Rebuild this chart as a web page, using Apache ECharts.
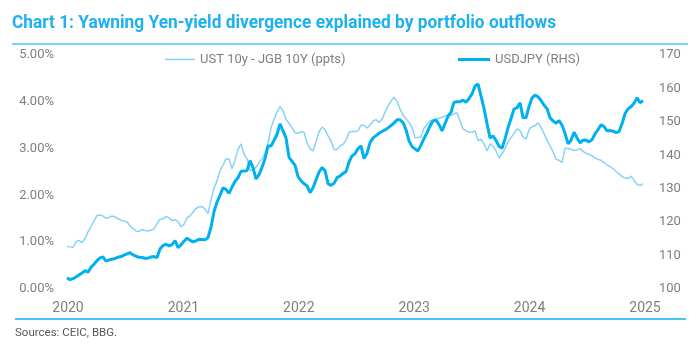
<!DOCTYPE html>
<html><head><meta charset="utf-8">
<script src="https://cdn.jsdelivr.net/npm/echarts@6/dist/echarts.min.js"></script>
<style>html,body{margin:0;padding:0;background:#fff}#c{width:700px;height:345px}</style>
</head><body><div id="c"></div>
<script>
// ---- data ----
const titleText = "Chart 1: Yawning Yen-yield divergence explained by portfolio outflows";
const sourceText = "Sources: CEIC, BBG.";
const seriesNames = ["UST 10y - JGB 10Y (ppts)", "USDJPY (RHS)"];
const yearTicks = [2020, 2021, 2022, 2023, 2024, 2025];
const leftTicks = ["0.00%", "1.00%", "2.00%", "3.00%", "4.00%", "5.00%"];
const rightTicks = [100, 110, 120, 130, 140, 150, 160, 170];
// observation dates: first observation (decimal year) and spacing (years)
const firstObs = 2019.9913;
const obsStep = 0.026;
// UST 10y - JGB 10Y spread (ppts)
const spread = [0.91,0.90,0.89,1.01,1.04,0.99,1.08,1.22,1.33,1.46,1.57,1.58,1.56,1.51,1.53,1.56,1.54,1.50,1.47,1.45,
1.43,1.35,1.29,1.24,1.23,1.27,1.25,1.24,1.26,1.28,1.40,1.49,1.50,1.55,1.52,1.46,1.48,1.44,1.33,1.38,
1.52,1.56,1.64,1.72,1.76,1.76,1.71,1.61,1.90,2.15,2.31,2.53,2.65,2.78,2.78,2.57,2.75,2.98,3.10,2.88,
2.78,2.53,2.55,2.60,2.70,2.78,2.90,3.10,3.45,3.62,3.78,3.90,3.81,3.62,3.54,3.45,3.34,3.33,3.36,3.35,
3.12,3.00,2.95,3.15,3.36,3.46,3.40,3.27,3.16,2.98,2.98,3.06,3.09,3.18,3.35,3.37,3.36,3.38,3.50,3.50,
3.44,3.50,3.59,3.62,3.56,3.63,3.78,3.91,4.02,4.10,4.01,3.85,3.71,3.64,3.56,3.45,3.23,3.24,3.25,3.44,
3.51,3.59,3.62,3.63,3.65,3.67,3.70,3.71,3.71,3.75,3.76,3.59,3.42,3.38,3.35,3.35,3.38,3.17,3.20,3.10,
2.95,3.10,3.05,2.95,2.80,2.89,3.00,3.15,3.24,3.32,3.42,3.38,3.25,3.20,3.41,3.47,3.49,3.55,3.45,3.32,
3.17,3.06,2.93,2.77,2.75,2.70,3.01,3.00,2.99,2.96,2.97,3.00,2.94,2.90,2.87,2.85,2.80,2.77,2.75,2.70,
2.65,2.62,2.57,2.51,2.46,2.40,2.37,2.36,2.41,2.32,2.24,2.21,2.25];
// USDJPY
const usdjpy = [103.4,102.8,103.1,103.6,104.2,104.8,105.5,105.0,106.5,107.4,108.5,109.3,109.6,108.3,108.7,108.9,109.1,109.5,109.7,110.1,
110.5,110.9,110.2,109.8,109.5,109.4,109.2,109.2,109.6,109.7,109.4,112.0,113.0,113.4,112.9,113.3,114.5,112.4,113.2,114.3,
115.2,114.6,114.1,114.4,114.9,114.8,114.7,115.4,118.5,123.2,126.0,128.0,130.3,129.8,128.6,130.5,132.2,133.3,135.2,135.3,
135.4,138.4,136.3,132.9,134.2,136.4,139.0,142.8,142.8,144.5,146.3,149.4,147.3,145.2,139.4,138.2,137.0,133.6,132.4,131.5,
130.9,128.8,130.3,132.7,135.0,136.3,135.4,131.5,131.0,131.6,133.3,133.8,134.6,135.1,138.0,139.8,140.5,142.0,142.8,139.0,
140.6,143.8,145.2,145.9,146.6,147.1,147.6,148.2,148.9,149.7,150.6,150.6,149.8,147.6,144.3,142.6,141.9,141.3,143.1,145.0,
146.8,148.8,150.3,150.5,149.2,147.3,149.5,151.7,152.9,155.9,156.0,156.0,156.5,155.9,157.0,158.4,160.7,161.3,157.7,154.0,
149.4,145.2,145.8,144.4,142.7,142.1,145.0,148.3,151.0,153.9,154.2,155.7,151.2,151.3,154.6,157.2,158.0,157.5,156.4,155.0,
153.9,151.2,150.3,149.6,150.4,149.0,146.5,143.4,144.5,146.9,145.2,143.7,144.5,144.6,144.0,144.7,146.5,147.7,149.1,148.6,
147.3,147.4,147.2,146.8,147.1,149.5,152.5,153.9,154.5,155.6,157.2,155.7,156.3];

// ---- chart ----
const blueDark = '#00b0f0';
const blueLight = '#86d3f6';
const grey = '#7f7f7f';
const pts = (arr) => arr.map((v, i) => [firstObs + i * obsStep, v]);

const chart = echarts.init(document.getElementById('c'), null, {renderer: 'canvas'});
chart.setOption({
  animation: false,
  textStyle: {fontFamily: 'Roboto'},
  grid: {left: 68, right: 55, top: 55, bottom: 56},
  graphic: [
    {type: 'text', left: 12, top: 14, scaleX: 0.91,
     style: {text: titleText, font: 'bold 19px Roboto', fill: '#1db1f0'}},
    {type: 'line', shape: {x1: 12, y1: 44, x2: 688, y2: 44}, style: {stroke: '#4dc4f5', lineWidth: 1.5}},
    {type: 'line', shape: {x1: 15, y1: 319, x2: 686, y2: 319}, style: {stroke: '#4dc4f5', lineWidth: 2}},
    {type: 'text', left: 15, top: 327, style: {text: sourceText, font: '11.5px Roboto', fill: '#595959'}}
  ],
  legend: [
    {left: 160, top: 48, data: [seriesNames[0]], icon: 'rect', itemWidth: 30, itemHeight: 1.5,
     textStyle: {color: grey, fontSize: 13, fontFamily: 'Roboto'}},
    {left: 453, top: 48, data: [seriesNames[1]], icon: 'rect', itemWidth: 32, itemHeight: 3,
     textStyle: {color: grey, fontSize: 13, fontFamily: 'Roboto'}}
  ],
  xAxis: {
    type: 'value', min: yearTicks[0], max: yearTicks[yearTicks.length - 1], interval: 1,
    axisLine: {show: false}, axisTick: {show: false}, splitLine: {show: false},
    axisLabel: {color: grey, fontSize: 14, margin: 12, formatter: v => String(Math.round(v))}
  },
  yAxis: [
    {type: 'value', min: 0, max: 5, interval: 1,
     axisLine: {show: false}, axisTick: {show: false}, splitLine: {show: false},
     axisLabel: {color: grey, fontSize: 13, margin: 14, formatter: v => leftTicks[Math.round(v)]}},
    {type: 'value', min: rightTicks[0], max: rightTicks[rightTicks.length - 1], interval: 10,
     axisLine: {show: false}, axisTick: {show: false}, splitLine: {show: false},
     axisLabel: {color: grey, fontSize: 13, margin: 14}}
  ],
  series: [
    {name: seriesNames[0], type: 'line', yAxisIndex: 0, data: pts(spread), showSymbol: false,
     color: blueLight, lineStyle: {width: 1.5, color: blueLight}, z: 2},
    {name: seriesNames[1], type: 'line', yAxisIndex: 1, data: pts(usdjpy), showSymbol: false,
     color: blueDark, lineStyle: {width: 3, color: blueDark}, z: 3}
  ]
});
</script></body></html>
